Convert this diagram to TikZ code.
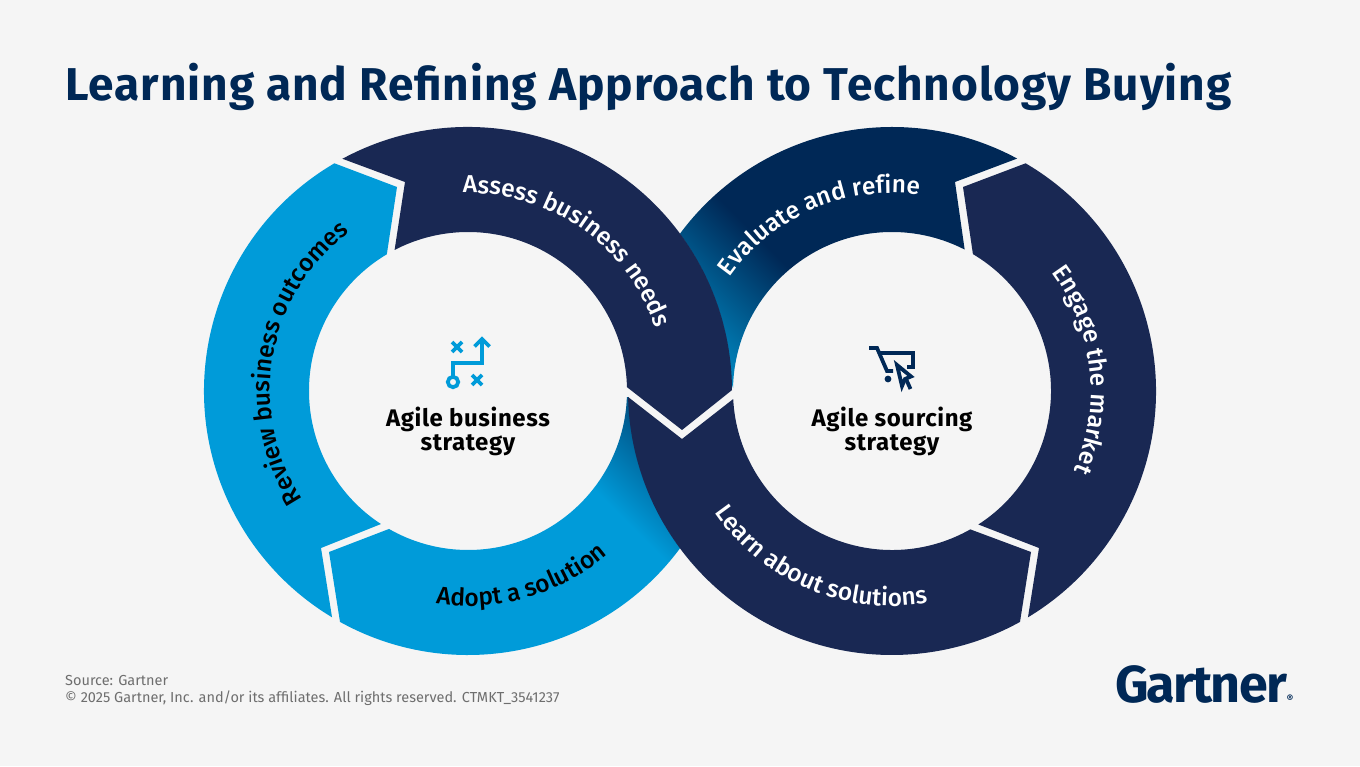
\documentclass[tikz,border=0pt]{standalone}
\usepackage{fontspec}
\setmainfont{Fira Sans}
\newfontfamily\ringfont{Fira Sans Medium}
\usepackage{xcolor}
\usetikzlibrary{calc,decorations.text}

\definecolor{pagebg}{HTML}{F5F5F5}
\definecolor{navy}{HTML}{192853}
\definecolor{deep}{HTML}{002856}
\definecolor{sky}{HTML}{009BD9}
\definecolor{skydark}{HTML}{00588C}
\definecolor{skymid}{HTML}{008CC6}
\definecolor{grayfoot}{HTML}{6E6E6E}

\pgfdeclareverticalshading{fadeadopt}{900bp}{color(0bp)=(sky); color(411bp)=(sky); color(489bp)=(skydark); color(900bp)=(skydark)}
\pgfdeclareverticalshading{fadeeval}{900bp}{color(0bp)=(skymid); color(386bp)=(skymid); color(514bp)=(deep); color(900bp)=(deep)}

\begin{document}
\begin{tikzpicture}[
	x=1pt, y=1pt,
	ringlabel/.style 2 args={decorate, decoration={text along path,
		text={|\ringfont\fontsize{24.5}{24}\selectfont\color{#2}|#1}, text align=center}},
	centerlabel/.style = {align=center, text=black, inner sep=0pt,
		font=\fontsize{24}{24}\selectfont\bfseries\addfontfeatures{LetterSpace=2.5}},
	footline/.style = {anchor=base west, inner sep=0pt, text=grayfoot,
		font=\fontsize{14.5}{14}\selectfont},
	iconblue/.style = {draw=sky, line width=3.8pt},
	icondeep/.style = {draw=deep, line width=3.8pt},
	fade/.style = {rotate=-45, inner sep=0pt}
]
\fill[pagebg] (0,0) rectangle (1360,766);
\useasboundingbox (0,0) rectangle (1360,766);

\coordinate (cl) at (468,375);
\coordinate (cr) at (892,375);

\node[anchor=base west, inner sep=0pt, text=deep,
	font=\fontsize{46}{46}\selectfont\bfseries\addfontfeatures{LetterSpace=2.1}]
	(title) at (65,665) {Learning and Refining Approach to Technology Buying};

% underlying segments with the fade
\begin{scope}
	\clip (cl) ++(241:264) arc[start angle=241, end angle=323.5, radius=264]
		arc[start angle=216.5, end angle=181.3, radius=263.5]
		-- ($(cl)+(357.8:159)$) arc[start angle=357.8, end angle=240.2, radius=159]
		-- (329,214) -- cycle;
	\node[fade] (adoptfade) at (650,276) {\pgfuseshading{fadeadopt}};
\end{scope}

\begin{scope}
	\clip (cr) ++(61.7:264) arc[start angle=61.7, end angle=143.5, radius=264]
		arc[start angle=36.5, end angle=1.9, radius=263.5]
		-- ($(cr)+(179:159)$) arc[start angle=179, end angle=62.8, radius=159]
		-- (955,584) -- cycle;
	\node[fade] (evalfade) at (690,506) {\pgfuseshading{fadeeval}};
\end{scope}

% top segments
\fill[sky] (cl) ++(120.4:264) arc[start angle=120.4, end angle=239, radius=264]
	-- (321,218) -- ($(cl)+(236.8:159)$) arc[start angle=236.8, end angle=120.7, radius=159]
	-- (397,579) -- cycle;
\fill[navy] (cl) ++(118.4:264) arc[start angle=118.4, end angle=0.2, radius=264]
	-- (682,336) -- ($(cl)+(1.4:159)$) arc[start angle=1.4, end angle=117.5, radius=159]
	-- (405,584) -- cycle;
\fill[navy] (cr) ++(59.6:264) arc[start angle=59.6, end angle=-59, radius=264]
	-- (1039,218) -- ($(cr)+(-57.1:159)$) arc[start angle=-57.1, end angle=59.4, radius=159]
	-- (963,579) -- cycle;
\fill[navy] (cr) ++(181.3:264) arc[start angle=181.3, end angle=299, radius=264]
	-- (1031,214) -- ($(cr)+(299.5:159)$) arc[start angle=299.5, end angle=182.9, radius=159]
	-- (682,327) -- cycle;

% ring texts
\path[ringlabel={Assess business needs}{white}] (cl) ++(115:198) arc[start angle=115, end angle=-5, radius=198];
\path[ringlabel={Review business outcomes}{black}] (cl) ++(235:198) arc[start angle=235, end angle=105, radius=198];
\path[ringlabel={Adopt a solution}{black}] (cl) ++(240:215) arc[start angle=240, end angle=332, radius=215];
\path[ringlabel={Evaluate and refine}{white}] (cr) ++(165:198) arc[start angle=165, end angle=62, radius=198];
\path[ringlabel={Engage the market}{white}] (cr) ++(59:199) arc[start angle=59, end angle=-46, radius=199];
\path[ringlabel={Learn about solutions}{white}] (cr) ++(192:215) arc[start angle=192, end angle=302, radius=215];

% strategy icon
\draw[iconblue] (453,384) circle[radius=5.2];
\draw[iconblue] (453,390) -- (453,403) -- (482,403) -- (482,426);
\draw[iconblue] (474.5,419.5) -- (482,427) -- (489.5,419.5);
\draw[iconblue] (452,424) -- (462,414) (452,414) -- (462,424);
\draw[iconblue] (472,391) -- (482,381) (472,381) -- (482,391);

% cart icon
\draw[icondeep] (869,418) -- (877,418) -- (887,395) -- (893,395);
\draw[icondeep] (879,413) -- (913,413) -- (913,399) -- (907,399);
\fill[deep] (888,387) circle[radius=3.4];
\draw[icondeep, fill=pagebg, line join=miter] (897,401) -- (911,389.5) -- (905,387) -- (902,380) -- cycle;
\draw[icondeep] (906,387) -- (910.5,377);

\node[centerlabel] (agilebiz) at (468,335) {Agile business\\strategy};
\node[centerlabel] (agilesrc) at (892,335) {Agile sourcing\\strategy};

\node[footline] (source) at (65,81) {Source: Gartner};
\node[footline] (rights) at (65,64) {© 2025 Gartner, Inc. and/or its affiliates. All rights reserved. CTMKT\_3541237};

\node[anchor=base west, inner sep=0pt, text=deep,
	font=\fontsize{52}{52}\selectfont\bfseries\addfontfeatures{LetterSpace=-3.5}]
	(logo) at (1115,64) {Gartner\fontsize{10}{10}\selectfont ®};
\end{tikzpicture}
\end{document}
